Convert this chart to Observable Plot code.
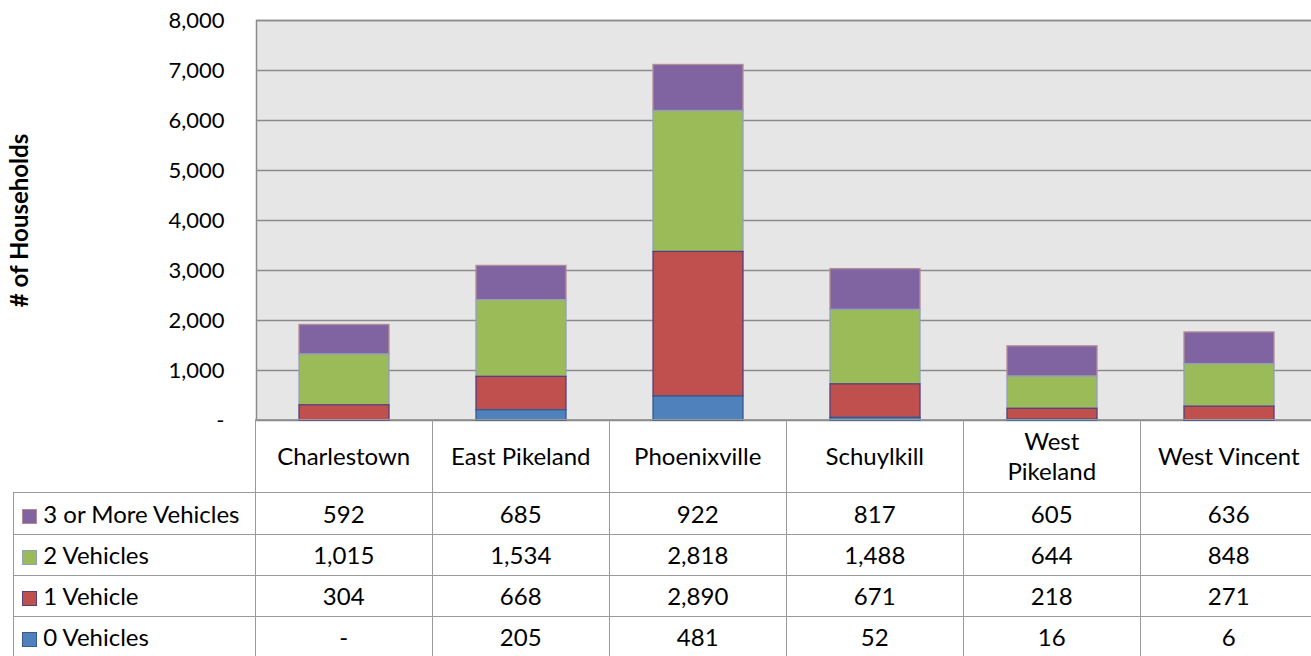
<!DOCTYPE html>
<html><head><meta charset="utf-8">
<script src="https://cdn.jsdelivr.net/npm/d3@7"></script>
<script src="https://cdn.jsdelivr.net/npm/@observablehq/plot@0.6"></script>
<style>
html,body{margin:0;padding:0;background:#fff;overflow:hidden;width:1311px;height:656px;}
#wrap{position:relative;width:1318px;height:656px;font-family:Lato,sans-serif;}
#chart{position:absolute;left:0;top:0;}
#tbl{position:absolute;border-collapse:collapse;table-layout:fixed;font-size:24px;color:#000;font-family:Lato,sans-serif;}
#tbl td{border:1.5px solid #9a9a9a;text-align:center;padding:0;white-space:pre-line;line-height:30px;vertical-align:middle;}
#tbl td.blank{border-top:none;border-left:none;}
#tbl td.leg{text-align:left;padding-left:8px;white-space:nowrap;}
.key{display:inline-block;width:13px;height:13px;margin-right:6px;vertical-align:-1px;border:1px solid;}
</style></head>
<body><div id="wrap"><div id="chart"></div></div>
<script>
const categories = ["Charlestown","East Pikeland","Phoenixville","Schuylkill","West Pikeland","West Vincent"];
const headerLabels = ["Charlestown","East Pikeland","Phoenixville","Schuylkill","West\nPikeland","West Vincent"];
const seriesNames = ["3 or More Vehicles","2 Vehicles","1 Vehicle","0 Vehicles"];
const stackOrder = ["0 Vehicles","1 Vehicle","2 Vehicles","3 or More Vehicles"];
const v3 = [592,685,922,817,605,636];
const v2 = [1015,1534,2818,1488,644,848];
const v1 = [304,668,2890,671,218,271];
const v0 = [0,205,481,52,16,6];
const seriesValues = [v3,v2,v1,v0];
const fillColors = ["#8064A2","#9BBB59","#C0504D","#4F81BD"];
const strokeColors = ["#b48c96","#8fa0c0","#55407a","#3a5a8c"];
const yTicks = [0,1000,2000,3000,4000,5000,6000,7000,8000];
const yLabel = "# of Households";

const fillOf = Object.fromEntries(seriesNames.map((s,i)=>[s,fillColors[i]]));
const strokeOf = Object.fromEntries(seriesNames.map((s,i)=>[s,strokeColors[i]]));
const data = [];
seriesNames.forEach((s,si)=>categories.forEach((c,ci)=>data.push({cat:c, series:s, value:seriesValues[si][ci]})));
const fmt = d => d === 0 ? "-" : d3.format(",")(d);

const chart = Plot.plot({
  width: 1318, height: 421,
  marginLeft: 256, marginRight: 0, marginTop: 20, marginBottom: 1,
  style: {fontFamily: "Lato, sans-serif", fontSize: "22px", color: "#000", background: "transparent", overflow: "visible"},
  x: {domain: categories, paddingInner: 0.49, paddingOuter: 0.245, axis: null},
  y: {domain: [0, 8000], axis: null},
  marks: [
    Plot.frame({fill: "#e6e6e6", stroke: "#8c8c8c", strokeWidth: 1.5}),
    Plot.gridY({ticks: yTicks.filter(d=>d>0), stroke: "#8c8c8c", strokeOpacity: 1, strokeWidth: 1.5}),
    Plot.barY(data, {x: "cat", y: "value", z: "series", order: stackOrder,
      fill: d => fillOf[d.series], stroke: d => strokeOf[d.series], strokeWidth: 1.3}),
    Plot.axisY({ticks: yTicks, tickSize: 0, tickPadding: 32, tickFormat: fmt, label: null, fontSize: 22}),
    Plot.text([yLabel], {frameAnchor: "left", textAnchor: "middle", rotate: -90, dx: -236, fontWeight: "bold", fontSize: 24})
  ]
});
document.getElementById("chart").appendChild(chart);

// data table aligned to the x band scale
const xs = chart.scale("x");
const bw = xs.bandwidth;
const step = xs.step || (xs.range[1]-xs.range[0])/categories.length;
const firstLeft = xs.apply(categories[0]) - (step - bw)/2;
const tableLeft = 14;
const tbl = document.createElement("table");
tbl.id = "tbl";
tbl.style.left = (tableLeft - 0.75) + "px";
tbl.style.top = (420 - 0.75) + "px";
const colgroup = document.createElement("colgroup");
const c0 = document.createElement("col"); c0.style.width = (firstLeft - tableLeft) + "px"; colgroup.appendChild(c0);
categories.forEach(()=>{const c=document.createElement("col"); c.style.width = step + "px"; colgroup.appendChild(c);});
tbl.appendChild(colgroup);
const hr = tbl.insertRow(); hr.style.height = "73px";
const blank = hr.insertCell(); blank.className = "blank";
headerLabels.forEach(l=>{const td = hr.insertCell(); td.textContent = l;});
const rowHeights = [42,41,41,41];
seriesNames.forEach((s,si)=>{
  const tr = tbl.insertRow(); tr.style.height = rowHeights[si] + "px";
  const lt = tr.insertCell(); lt.className = "leg";
  const key = document.createElement("span"); key.className = "key";
  key.style.background = fillColors[si]; key.style.borderColor = strokeColors[si];
  lt.appendChild(key); lt.appendChild(document.createTextNode(s));
  seriesValues[si].forEach(v=>{const td = tr.insertCell(); td.textContent = fmt(v);});
});
document.getElementById("wrap").appendChild(tbl);
</script>
</body></html>
